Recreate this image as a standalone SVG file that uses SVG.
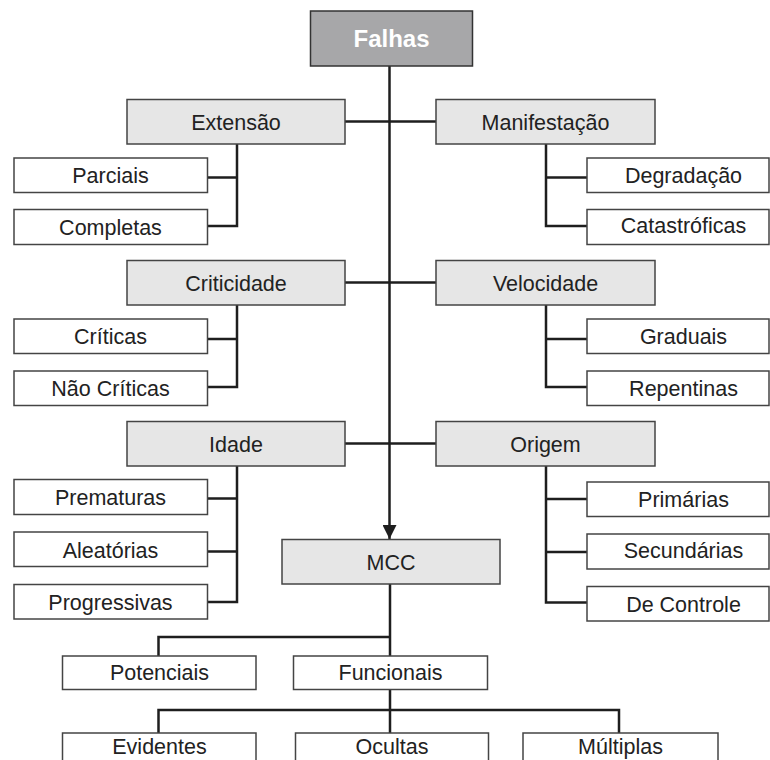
<svg xmlns="http://www.w3.org/2000/svg" width="770" height="760" viewBox="0 0 770 760">
  <style>
    .root rect { fill: #a7a7a9; stroke: #333; stroke-width: 1.5; }
    .root text { fill: #fff; font-weight: bold; font-size: 24px; }
    .cat rect { fill: #e6e6e6; stroke: #444; stroke-width: 1.5; }
    .leaf rect { fill: #fff; stroke: #444; stroke-width: 1.5; }
    text { font-family: "Liberation Sans", Arial, sans-serif; font-size: 21.5px; fill: #222; text-anchor: middle; }
    .links path { fill: none; stroke: #1e1e1e; stroke-width: 2.5; }
  </style>
  <defs>
    <marker id="arrow" markerWidth="14" markerHeight="14" refX="14" refY="7" orient="auto" markerUnits="userSpaceOnUse">
      <path d="M0,0 L14,7 L0,14 Z" fill="#1e1e1e"/>
    </marker>
  </defs>

  <rect width="770" height="760" fill="#fff"/>

  <!-- connectors -->
  <g class="links">
    <!-- trunk from Falhas down to MCC -->
    <path d="M389.5,66 V539" marker-end="url(#arrow)"/>
    <!-- category bars across the trunk -->
    <path d="M345,121.5 H436"/>
    <path d="M345,282.5 H436"/>
    <path d="M345,443.5 H436"/>
    <!-- Extensão branch -->
    <path d="M237,144 V226 H207.5 M207.5,177.5 H237"/>
    <!-- Manifestação branch -->
    <path d="M546,144 V226 H587 M546,177.5 H587"/>
    <!-- Criticidade branch -->
    <path d="M237,305 V387 H207.5 M207.5,339 H237"/>
    <!-- Velocidade branch -->
    <path d="M546,305 V387 H587 M546,339 H587"/>
    <!-- Idade branch -->
    <path d="M237,466 V602 H207.5 M207.5,498.5 H237 M207.5,551.5 H237"/>
    <!-- Origem branch -->
    <path d="M546,466 V602.5 H587 M546,499 H587 M546,552 H587"/>
    <!-- MCC to Potenciais / Funcionais -->
    <path d="M390,584 V656 M390,637 H158.5 V656"/>
    <!-- Funcionais to its three kinds -->
    <path d="M390,689.5 V733 M158.5,733 V710 H619 V733"/>
  </g>

  <g id="falhas" class="root">
    <rect x="310.5" y="11" width="162" height="55"/>
    <text x="391.5" y="47">Falhas</text>
  </g>

  <g id="extensao" class="cat">
    <rect x="127" y="99.5" width="218" height="44.5"/>
    <text x="236" y="129.5">Extensão</text>
  </g>
  <g id="parciais" class="leaf">
    <rect x="14" y="158" width="193.5" height="34.5"/>
    <text x="110.5" y="183">Parciais</text>
  </g>
  <g id="completas" class="leaf">
    <rect x="14" y="209.5" width="193.5" height="35"/>
    <text x="110.5" y="234.5">Completas</text>
  </g>

  <g id="manifestacao" class="cat">
    <rect x="436" y="99.5" width="219" height="44.5"/>
    <text x="545.5" y="129.5">Manifestação</text>
  </g>
  <g id="degradacao" class="leaf">
    <rect x="587" y="158" width="182" height="34.5"/>
    <text x="683.5" y="183">Degradação</text>
  </g>
  <g id="catastroficas" class="leaf">
    <rect x="587" y="209.5" width="182" height="35"/>
    <text x="683.5" y="232.5">Catastróficas</text>
  </g>

  <g id="criticidade" class="cat">
    <rect x="127" y="260.5" width="218" height="44.5"/>
    <text x="236" y="290.5">Criticidade</text>
  </g>
  <g id="criticas" class="leaf">
    <rect x="14" y="319" width="193.5" height="34.5"/>
    <text x="110.5" y="344">Críticas</text>
  </g>
  <g id="nao-criticas" class="leaf">
    <rect x="14" y="371" width="193.5" height="34.5"/>
    <text x="110.5" y="396">Não Críticas</text>
  </g>

  <g id="velocidade" class="cat">
    <rect x="436" y="260.5" width="219" height="44.5"/>
    <text x="545.5" y="290.5">Velocidade</text>
  </g>
  <g id="graduais" class="leaf">
    <rect x="587" y="319" width="182" height="34.5"/>
    <text x="683.5" y="344">Graduais</text>
  </g>
  <g id="repentinas" class="leaf">
    <rect x="587" y="371" width="182" height="34.5"/>
    <text x="683.5" y="396">Repentinas</text>
  </g>

  <g id="idade" class="cat">
    <rect x="127" y="421.5" width="218" height="44.5"/>
    <text x="236" y="451.5">Idade</text>
  </g>
  <g id="prematuras" class="leaf">
    <rect x="14" y="479.5" width="193.5" height="35"/>
    <text x="110.5" y="505">Prematuras</text>
  </g>
  <g id="aleatorias" class="leaf">
    <rect x="14" y="532" width="193.5" height="34.5"/>
    <text x="110.5" y="557.5">Aleatórias</text>
  </g>
  <g id="progressivas" class="leaf">
    <rect x="14" y="584.5" width="193.5" height="34.5"/>
    <text x="110.5" y="609.5">Progressivas</text>
  </g>

  <g id="origem" class="cat">
    <rect x="436" y="421.5" width="219" height="44.5"/>
    <text x="545.5" y="451.5">Origem</text>
  </g>
  <g id="primarias" class="leaf">
    <rect x="587" y="482" width="182" height="34.5"/>
    <text x="683.5" y="506.5">Primárias</text>
  </g>
  <g id="secundarias" class="leaf">
    <rect x="587" y="534" width="182" height="35"/>
    <text x="683.5" y="558">Secundárias</text>
  </g>
  <g id="de-controle" class="leaf">
    <rect x="587" y="586.5" width="182" height="34.5"/>
    <text x="683.5" y="611.5">De Controle</text>
  </g>

  <g id="mcc" class="cat">
    <rect x="282" y="539.5" width="218" height="44.5"/>
    <text x="391" y="569.5">MCC</text>
  </g>

  <g id="potenciais" class="leaf">
    <rect x="62.5" y="656" width="193.5" height="33.5"/>
    <text x="159.5" y="679.5">Potenciais</text>
  </g>
  <g id="funcionais" class="leaf">
    <rect x="293.5" y="656" width="194" height="33.5"/>
    <text x="390.5" y="679.5">Funcionais</text>
  </g>

  <g id="evidentes" class="leaf">
    <rect x="62.5" y="733" width="193.5" height="35"/>
    <text x="159.5" y="754">Evidentes</text>
  </g>
  <g id="ocultas" class="leaf">
    <rect x="295.5" y="733" width="193" height="35"/>
    <text x="392" y="754">Ocultas</text>
  </g>
  <g id="multiplas" class="leaf">
    <rect x="523" y="733" width="195" height="35"/>
    <text x="620.5" y="754">Múltiplas</text>
  </g>
</svg>
